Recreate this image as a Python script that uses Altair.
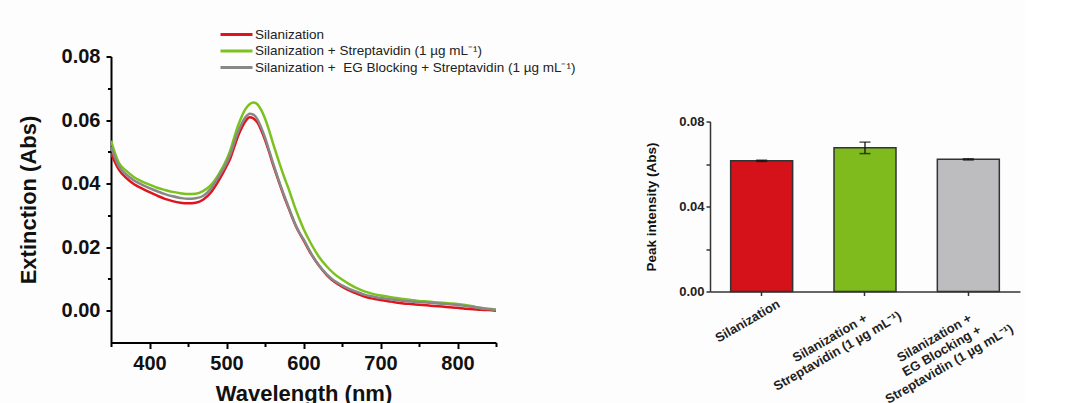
import altair as alt
import pandas as pd

# ---------------- data ----------------
wavelength = [350, 360, 370, 380, 390, 400, 410, 420, 430, 440, 450, 460, 470, 480, 490,
              500, 505, 510, 515, 520, 525, 530, 535, 540, 545, 550, 555, 560, 565, 570,
              575, 580, 585, 590, 595, 600,
              610, 620, 630, 640, 650, 660, 670, 680, 690, 700, 710, 720, 730, 740, 750,
              760, 770, 780, 790, 800, 810, 820, 830, 840, 850]

ext_silanization = [0.0495, 0.0445, 0.0417, 0.0398, 0.0385, 0.0373, 0.0362, 0.0352, 0.0345, 0.0340,
                    0.0338, 0.0340, 0.0350, 0.0373, 0.0410,
                    0.0455, 0.0480, 0.0515, 0.0550, 0.0577, 0.0598, 0.0609, 0.0605, 0.0593, 0.0569,
                    0.0538, 0.0502, 0.0463, 0.0427, 0.0392, 0.0358, 0.0327, 0.0296, 0.0267, 0.0243,
                    0.0222,
                    0.0178, 0.0142, 0.0113, 0.0091, 0.0076, 0.0063, 0.0053, 0.0044, 0.0038, 0.0034,
                    0.0030, 0.0026, 0.0023, 0.0021, 0.0019, 0.0017, 0.0015, 0.0013, 0.0011, 0.0009,
                    0.0006, 0.0005, 0.0003, 0.0002, 0.0000]

ext_streptavidin = [0.0535, 0.0466, 0.0440, 0.0420, 0.0407, 0.0397, 0.0387, 0.0380, 0.0374, 0.0370,
                    0.0367, 0.0368, 0.0377, 0.0396, 0.0430,
                    0.0475, 0.0505, 0.0545, 0.0582, 0.0613, 0.0636, 0.0650, 0.0655, 0.0650, 0.0632,
                    0.0605, 0.0570, 0.0530, 0.0492, 0.0455, 0.0420, 0.0388, 0.0353, 0.0318, 0.0287,
                    0.0258,
                    0.0210, 0.0170, 0.0140, 0.0116, 0.0098, 0.0083, 0.0070, 0.0060, 0.0053, 0.0048,
                    0.0044, 0.0040, 0.0037, 0.0034, 0.0031, 0.0029, 0.0027, 0.0025, 0.0023, 0.0021,
                    0.0018, 0.0014, 0.0008, 0.0006, 0.0003]

ext_eg_blocking = [0.0515, 0.0455, 0.0428, 0.0410, 0.0397, 0.0386, 0.0376, 0.0367, 0.0360, 0.0355,
                   0.0352, 0.0354, 0.0362, 0.0385, 0.0422,
                   0.0465, 0.0492, 0.0528, 0.0562, 0.0590, 0.0610, 0.0620, 0.0617, 0.0603, 0.0577,
                   0.0545, 0.0507, 0.0468, 0.0431, 0.0395, 0.0362, 0.0330, 0.0298, 0.0268, 0.0245,
                   0.0225,
                   0.0180, 0.0143, 0.0115, 0.0094, 0.0080, 0.0068, 0.0059, 0.0050, 0.0045, 0.0040,
                   0.0037, 0.0034, 0.0031, 0.0029, 0.0027, 0.0026, 0.0024, 0.0022, 0.0020, 0.0018,
                   0.0015, 0.0012, 0.0009, 0.0005, 0.0003]

series_names = ["Silanization",
                "Silanization + Streptavidin (1 µg mL⁻¹)",
                "Silanization + \u00a0EG Blocking + Streptavidin (1 µg mL⁻¹)"]
series_colors = ["#e0141c", "#7cc21e", "#888888"]

x_tick_values = [350, 400, 450, 500, 550, 600, 650, 700, 750, 800, 850]
y_tick_values = [0.00, 0.01, 0.02, 0.03, 0.04, 0.05, 0.06, 0.07, 0.08]

bar_labels = ["Silanization",
              "Silanization +\nStreptavidin (1 µg mL⁻¹)",
              "Silanization +\nEG Blocking +\nStreptavidin (1 µg mL⁻¹)"]
peak_values = [0.0615, 0.0676, 0.0622]
peak_errors = [0.0003, 0.0027, 0.0003]
bar_colors = ["#d51119", "#7fbb1c", "#bdbcbf"]
bar_y_ticks = [0.00, 0.02, 0.04, 0.06, 0.08]

FONT = "Liberation Sans"

# ---------------- tables ----------------
rows = []
for name, vals in zip(series_names, [ext_silanization, ext_streptavidin, ext_eg_blocking]):
    for w, v in zip(wavelength, vals):
        rows.append({"wavelength": w, "extinction": v, "series": name})
spec_df = pd.DataFrame(rows)

bar_df = pd.DataFrame({
    "group": bar_labels,
    "peak": peak_values,
    "lo": [v - e for v, e in zip(peak_values, peak_errors)],
    "hi": [v + e for v, e in zip(peak_values, peak_errors)],
    "color": bar_colors,
})

# ---------------- left: spectra ----------------
left = alt.Chart(spec_df).mark_line(strokeWidth=2.5, interpolate="monotone", clip=True).encode(
    x=alt.X("wavelength:Q",
            scale=alt.Scale(domain=[350, 850], nice=False, zero=False),
            axis=alt.Axis(title="Wavelength (nm)", values=x_tick_values,
                          labelExpr="(datum.value % 100 == 0 && datum.value > 350 && datum.value < 850) ? datum.label : ''",
                          labelFlush=False, labelOverlap=False,
                          tickSize={"condition": {"test": "datum.value % 100 == 0", "value": 6}, "value": 4},
                          labelPadding=5, titlePadding=10, grid=False,
                          labelFontSize=20, titleFontSize=22)),
    y=alt.Y("extinction:Q",
            scale=alt.Scale(domain=[-0.01, 0.08], nice=False, zero=False),
            axis=alt.Axis(title="Extinction (Abs)", values=y_tick_values, format=".2f",
                          labelExpr="round(datum.value * 100) % 2 == 0 ? datum.label : ''",
                          labelOverlap=False, labelFlush=False,
                          tickSize={"condition": {"test": "round(datum.value * 100) % 2 == 0", "value": 5}, "value": 3.5},
                          labelPadding=6, titlePadding=21, grid=False,
                          labelFontSize=20, titleFontSize=22)),
    color=alt.Color("series:N",
                    scale=alt.Scale(domain=series_names, range=series_colors),
                    legend=alt.Legend(title=None, orient="none", legendX=116, legendY=-31.5,
                                      symbolType="M-2,0L2,0", symbolSize=256, symbolStrokeWidth=3,
                                      labelFontSize=13.5, labelFont=FONT, labelFontWeight="normal",
                                      labelColor="#222222", labelOffset=9, rowPadding=0.5,
                                      padding=0, labelLimit=0)),
).properties(width=385, height=286)

# ---------------- right: peak intensity bars ----------------
xenc = alt.X("group:N", sort=bar_labels,
             scale=alt.Scale(paddingInner=0.4, paddingOuter=0.2),
             axis=alt.Axis(title=None, labelAngle=-30,
                           labelExpr="split(datum.label, '\\n')",
                           labelAlign="center", labelBaseline="top",
                           labelOffset={"condition": [
                               {"test": "indexof(datum.value, 'EG') >= 0", "value": -37},
                               {"test": "indexof(datum.value, 'Strep') >= 0", "value": -38}],
                               "value": -17},
                           labelPadding={"condition": [
                               {"test": "indexof(datum.value, 'EG') >= 0", "value": 37},
                               {"test": "indexof(datum.value, 'Strep') >= 0", "value": 37}],
                               "value": 20},
                           labelOverlap=False, labelLimit=0, labelLineHeight=15,
                           labelFontSize=13, tickSize=4, domainWidth=1.5, tickWidth=1.5,
                           domainColor="#333333", tickColor="#333333", labelColor="#222222"))

yenc_kwargs = dict(scale=alt.Scale(domain=[0, 0.08], nice=False, zero=True))

bars = alt.Chart(bar_df).mark_bar(stroke="#333333", strokeWidth=1.5).encode(
    x=xenc,
    y=alt.Y("peak:Q", **yenc_kwargs,
            axis=alt.Axis(title="Peak intensity (Abs)", values=bar_y_ticks, format=".2f",
                          labelExpr="round(datum.value * 100) % 4 == 0 ? datum.label : ''",
                          labelOverlap=False, labelFlush=False, grid=False,
                          labelFontSize=13, titleFontSize=13.5, labelPadding=2, titlePadding=20,
                          tickSize=4, domainWidth=1.5, tickWidth=1.5,
                          domainColor="#333333", tickColor="#333333", labelColor="#222222")),
    color=alt.Color("color:N", scale=None),
)
err_rule = alt.Chart(bar_df).mark_rule(color="#111111", strokeWidth=1.3).encode(
    x=alt.X("group:N", sort=bar_labels), y=alt.Y("lo:Q", **yenc_kwargs), y2="hi:Q")
cap_lo = alt.Chart(bar_df).mark_tick(color="#111111", size=11, thickness=1.5).encode(
    x=alt.X("group:N", sort=bar_labels), y=alt.Y("lo:Q", **yenc_kwargs))
cap_hi = alt.Chart(bar_df).mark_tick(color="#111111", size=11, thickness=1.5).encode(
    x=alt.X("group:N", sort=bar_labels), y=alt.Y("hi:Q", **yenc_kwargs))

bar_panel = alt.layer(bars, err_rule, cap_lo, cap_hi).properties(width=310, height=170)

# empty block that only pushes the bar panel down
spacer = alt.Chart(bar_df).mark_point(opacity=0).encode(
    x=alt.value(0), y=alt.value(0)
).properties(width=310, height=59)

right = alt.vconcat(spacer, bar_panel, spacing=0)

chart = alt.hconcat(left, right, spacing=147).properties(
    padding={"left": 17, "top": 24.5, "right": 5, "bottom": 5},
    background="#fdfdfd",
).configure_view(stroke=None).configure_axis(
    labelFont=FONT, titleFont=FONT, labelFontWeight="bold", titleFontWeight="bold",
    labelColor="#111111", titleColor="#111111",
    domainColor="#000000", tickColor="#000000", domainWidth=2, tickWidth=2,
).configure_legend(labelFont=FONT)

chart.save("out.html", embed_options={"renderer": "svg", "actions": False})
